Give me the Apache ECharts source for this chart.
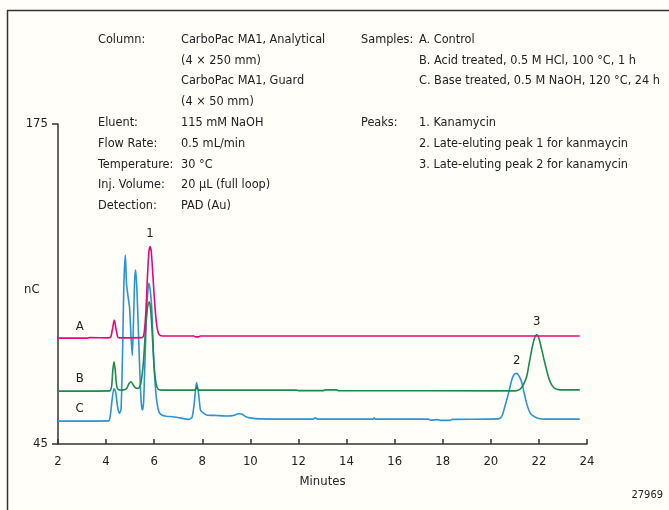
<!DOCTYPE html>
<html>
<head>
<meta charset="utf-8">
<script src="https://cdn.jsdelivr.net/npm/echarts@6/dist/echarts.min.js"></script>
<style>
html,body{margin:0;padding:0;background:#fffef9;}
#chart{width:669px;height:510px;}
</style>
</head>
<body>
<div id="chart"></div>
<script>
// ---- data (time in minutes, response in nC) ----
const xTicks = [2, 4, 6, 8, 10, 12, 14, 16, 18, 20, 22, 24];
const yTicks = [45, 175];

const traceA = [
  [2.0, 88.0], [3.2, 88.0], [3.3, 88.2], [4.1, 88.1], [4.2, 88.6], [4.27, 92], [4.34, 95.4], [4.41, 92],
  [4.48, 88.6], [4.56, 88.1], [5.5, 88.2], [5.58, 90], [5.65, 98], [5.72, 113], [5.78, 123], [5.83, 125.2],
  [5.88, 123], [5.95, 113], [6.03, 101], [6.11, 93], [6.2, 89.5], [6.35, 88.9], [7.65, 88.9], [7.72, 88.5],
  [7.85, 88.5], [7.92, 88.9], [23.7, 88.9]
];
const traceB = [
  [2.0, 66.5], [4.15, 66.6], [4.23, 68.5], [4.28, 75], [4.33, 78.4], [4.38, 75], [4.44, 68.5], [4.52, 67],
  [4.65, 66.9], [4.85, 67.5], [4.95, 69.5], [5.04, 70.3], [5.13, 69], [5.22, 67.8], [5.34, 67.6], [5.45, 70],
  [5.55, 78], [5.65, 93], [5.73, 101], [5.8, 102.8], [5.86, 99], [5.93, 88], [6.0, 76], [6.08, 69.5],
  [6.17, 67.2], [6.3, 66.9], [7.7, 66.9], [7.77, 68.2], [7.84, 66.9], [11.9, 66.9], [12.0, 66.7], [13.05, 66.7],
  [13.1, 67.0], [13.6, 67.0], [13.65, 66.7], [21.0, 66.6], [21.21, 67.2], [21.35, 69], [21.49, 72.3],
  [21.6, 78], [21.7, 83.2], [21.8, 87.5], [21.91, 89.4], [22.0, 88], [22.12, 83.2], [22.22, 79],
  [22.32, 75], [22.42, 71.5], [22.53, 69], [22.68, 67.5], [22.88, 67], [23.7, 67]
];
const traceC = [
  [2.0, 54.3], [4.1, 54.4], [4.18, 57], [4.25, 63], [4.33, 67.5], [4.4, 66], [4.48, 60], [4.55, 57.5],
  [4.62, 59], [4.68, 80], [4.74, 110], [4.8, 121.8], [4.85, 110], [4.92, 104.5], [4.98, 100], [5.04, 88],
  [5.09, 81], [5.14, 95], [5.19, 112], [5.23, 115.7], [5.28, 108], [5.33, 95], [5.4, 75], [5.46, 62],
  [5.51, 58.8], [5.56, 62], [5.62, 80], [5.7, 102], [5.78, 110.3], [5.84, 107], [5.9, 100], [5.97, 82],
  [6.03, 71], [6.1, 63], [6.2, 58], [6.31, 56.8], [6.5, 56.3], [6.78, 56.1], [7.07, 55.6], [7.45, 55.0],
  [7.58, 56], [7.67, 62], [7.76, 70], [7.84, 66], [7.92, 59], [7.98, 58.1], [8.18, 56.8], [8.6, 56.6],
  [9.02, 56.4], [9.3, 56.6], [9.5, 57.3], [9.64, 57.2], [9.8, 56.2], [9.99, 55.6], [10.4, 55.2], [12.6, 55.1],
  [12.7, 55.6], [12.8, 55.1], [15.1, 55.1], [15.15, 55.6], [15.2, 55.1], [17.4, 55.1], [17.5, 54.7],
  [17.8, 54.9], [17.9, 54.6], [18.3, 54.6], [18.4, 55.0], [20.3, 55.2], [20.45, 56.1], [20.55, 59],
  [20.66, 62.9], [20.77, 67], [20.87, 71], [20.97, 73.2], [21.08, 73.7], [21.18, 72.5], [21.28, 70.3],
  [21.38, 66], [21.49, 61.5], [21.6, 58.3], [21.7, 56.8], [21.98, 55.4], [22.3, 55.1], [23.7, 55.1]
];
const traceNames = ['A', 'B', 'C'];
const traceColors = ['#e4087f', '#1b8a4c', '#2a94d4'];
// peak labels: [time, value, label, trace index]
const peakLabels = [[5.83, 125.2, '1', 0], [21.08, 73.7, '2', 2], [21.91, 89.4, '3', 1]];
// trace labels placed on each baseline: [time, value]
const traceLabelPos = [[2.9, 88.0], [2.9, 66.5], [2.9, 54.3]];

const leftLines = [
  ['Column:', 'CarboPac MA1, Analytical'],
  ['', '(4 × 250 mm)'],
  ['', 'CarboPac MA1, Guard'],
  ['', '(4 × 50 mm)'],
  ['Eluent:', '115 mM NaOH'],
  ['Flow Rate:', '0.5 mL/min'],
  ['Temperature:', '30 °C'],
  ['Inj. Volume:', '20 µL (full loop)'],
  ['Detection:', 'PAD (Au)']
];
const rightLines = [
  ['Samples:', 'A. Control'],
  ['', 'B. Acid treated, 0.5 M HCl, 100 °C, 1 h'],
  ['', 'C. Base treated, 0.5 M NaOH, 120 °C, 24 h'],
  ['', ''],
  ['Peaks:', '1. Kanamycin'],
  ['', '2. Late-eluting peak 1 for kanmaycin'],
  ['', '3. Late-eluting peak 2 for kanamycin']
];

const FONT = "'DejaVu Sans Condensed', 'Liberation Sans Narrow', sans-serif";
const TXT = '#222';
const FS = 12.6;

const chart = echarts.init(document.getElementById('chart'), null, {renderer: 'canvas'});

const graphic = [
  {type: 'line', shape: {x1: 7, y1: 10.5, x2: 669, y2: 10.5}, style: {stroke: '#333', lineWidth: 1.5}},
  {type: 'line', shape: {x1: 7.5, y1: 10, x2: 7.5, y2: 510}, style: {stroke: '#333', lineWidth: 1.5}},
  {type: 'text', left: 24, top: 283, style: {text: 'nC', font: '13px ' + FONT, fill: TXT}},
  {type: 'text', right: 6, top: 490, style: {text: '27969', font: '11px ' + FONT, fill: TXT}}
];
const lineH = 20.8;
leftLines.forEach((l, i) => {
  graphic.push({type: 'text', x: 98, y: 33 + i * lineH, style: {text: l[0], font: FS + 'px ' + FONT, fill: TXT}});
  graphic.push({type: 'text', x: 181, y: 33 + i * lineH, style: {text: l[1], font: FS + 'px ' + FONT, fill: TXT}});
});
rightLines.forEach((l, i) => {
  graphic.push({type: 'text', x: 361, y: 33 + i * lineH, style: {text: l[0], font: FS + 'px ' + FONT, fill: TXT}});
  graphic.push({type: 'text', x: 419, y: 33 + i * lineH, style: {text: l[1], font: FS + 'px ' + FONT, fill: TXT}});
});

const traces = [traceA, traceB, traceC];
const series = traces.map((d, i) => ({
  type: 'line',
  name: traceNames[i],
  data: d,
  showSymbol: false,
  smooth: 0.25,
  lineStyle: {color: traceColors[i], width: 1.6},
  itemStyle: {color: traceColors[i]},
  z: 3 - i,
  markPoint: {
    symbol: 'circle', symbolSize: 0, silent: true,
    label: {show: true, color: TXT, fontFamily: FONT, fontSize: 13},
    data: [
      {coord: traceLabelPos[i], value: traceNames[i], label: {formatter: traceNames[i], offset: [0, -12]}}
    ].concat(peakLabels.filter(p => p[3] === i).map(p => ({
      coord: [p[0], p[1]], value: p[2], label: {formatter: p[2], offset: [0, -13]}
    })))
  }
}));

chart.setOption({
  backgroundColor: '#fffef9',
  animation: false,
  grid: {left: 58, top: 124, right: 82, bottom: 66, containLabel: false},
  xAxis: {
    type: 'value', min: 2, max: 24, interval: 2,
    name: 'Minutes', nameLocation: 'middle', nameGap: 31,
    nameTextStyle: {color: TXT, fontFamily: FONT, fontSize: 13},
    axisLine: {lineStyle: {color: '#333', width: 1.5}},
    axisTick: {inside: true, length: 5, lineStyle: {color: '#333', width: 1.5}},
    axisLabel: {color: TXT, fontFamily: FONT, fontSize: 13, margin: 11},
    splitLine: {show: false}
  },
  yAxis: {
    type: 'value', min: 45, max: 175,
    axisLine: {show: true, lineStyle: {color: '#333', width: 1.5}},
    axisTick: {show: true, length: 6, customValues: yTicks, lineStyle: {color: '#333', width: 1.5}},
    axisLabel: {color: TXT, fontFamily: FONT, fontSize: 13, margin: 10, customValues: yTicks},
    splitLine: {show: false}
  },
  graphic: graphic,
  series: series
});
</script>
</body>
</html>
